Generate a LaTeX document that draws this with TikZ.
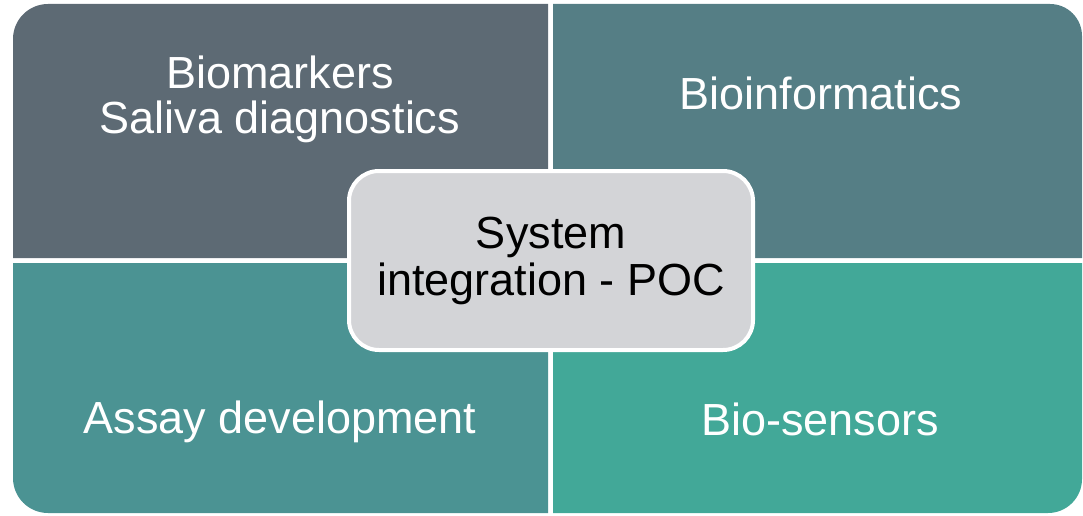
\documentclass[tikz,border=0pt]{standalone}
\usepackage{fontspec}
\setmainfont{Liberation Sans}
\definecolor{qtl}{HTML}{5D6A74}
\definecolor{qtr}{HTML}{557E85}
\definecolor{qbl}{HTML}{4B9393}
\definecolor{qbr}{HTML}{42A898}
\definecolor{hubfill}{HTML}{D3D4D7}
\tikzset{
  quadtext/.style={text=white, inner sep=0pt, font=\fontsize{45}{45}\selectfont, align=center},
  hub/.style={draw=white, line width=4pt, fill=hubfill, rounded corners=30pt,
    minimum width=404pt, minimum height=179pt, inner sep=0pt,
    font=\fontsize{45}{47}\selectfont, align=center, text=black}
}
\begin{document}
\begin{tikzpicture}[x=1pt,y=1pt]
\useasboundingbox (0,0) rectangle (1083,515);
% quadrants
\fill[qtl] (13,257) -- (13,476) arc[start angle=180,end angle=90,radius=35] -- (548,511) -- (548,257) -- cycle;
\fill[qtr] (553,257) -- (553,511) -- (1050,511) arc[start angle=90,end angle=0,radius=32] -- (1082,257) -- cycle;
\fill[qbl] (13,252) -- (13,37) arc[start angle=180,end angle=270,radius=35] -- (548,2) -- (548,252) -- cycle;
\fill[qbr] (553,252) -- (553,2) -- (1048,2) arc[start angle=270,end angle=360,radius=34] -- (1082,252) -- cycle;
% texts
\node[quadtext, anchor=north] (tl) at (280,459.5) {Biomarkers\\Saliva diagnostics};
\node[quadtext, anchor=base] (tr) at (821,405) {Bioinformatics};
\node[quadtext, anchor=base] (bl) at (280,82) {Assay development};
\node[quadtext, anchor=base] (br) at (820,80) {Bio-sensors};
% hub
\node[hub] (hubnode) at (551,254.5) {System\\integration - POC};
\end{tikzpicture}
\end{document}
